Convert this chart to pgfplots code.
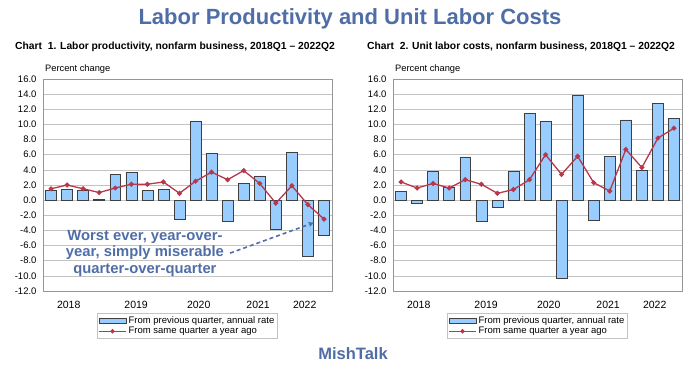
\documentclass[border=0pt]{standalone}
\usepackage{pgfplots}
\pgfplotsset{compat=1.18}
\usepackage{fontspec}
\setmainfont{Liberation Sans}
\usetikzlibrary{arrows.meta}
\definecolor{mishblue}{RGB}{79,109,166}
\definecolor{barblue}{RGB}{153,204,255}
\definecolor{linered}{RGB}{185,55,75}
\definecolor{gridgray}{RGB}{195,195,195}
\definecolor{boxgray}{RGB}{150,150,150}

\pgfplotstableread{
x bar line
0 1.3 1.5
1 1.4 2.0
2 1.3 1.5
3 0.1 1.0
4 3.4 1.6
5 3.7 2.1
6 1.3 2.1
7 1.4 2.4
8 -2.5 0.9
9 10.4 2.5
10 6.2 3.7
11 -2.8 2.7
12 2.2 3.9
13 3.2 2.2
14 -3.9 -0.4
15 6.3 1.9
16 -7.4 -0.6
17 -4.6 -2.5
}\prodtable

\pgfplotstableread{
x bar line
0 1.2 2.4
1 -0.4 1.6
2 3.8 2.2
3 1.7 1.6
4 5.7 2.7
5 -2.8 2.1
6 -0.9 0.9
7 3.8 1.4
8 11.5 2.7
9 10.4 6.0
10 -10.3 3.4
11 13.9 5.8
12 -2.7 2.3
13 5.8 1.2
14 10.6 6.7
15 3.9 4.3
16 12.8 8.2
17 10.8 9.5
}\ulctable

\pgfplotsset{
  mystyle/.style={
    scale only axis, width=289pt, height=212pt,
    xmin=-0.5, xmax=17.5, ymin=-12, ymax=16,
    ytick={-12,-10,...,16},
    /pgf/number format/assume math mode=true,
    ticklabel style={font=\fontsize{9.5}{10}\selectfont},
    yticklabel style={xshift=-3pt, /pgf/number format/.cd, fixed, fixed zerofill, precision=1},
    xticklabel style={font=\fontsize{10.5}{11}\selectfont, yshift=-7pt},
    xtick={1.1,5.3,9.2,12.9,15.8},
    xticklabels={2018,2019,2020,2021,2022},
    major tick length=0pt,
    ymajorgrids, grid style={gridgray, line width=0.6pt},
    axis line style={boxgray, line width=0.6pt},
    legend style={font=\fontsize{9.5}{10}\selectfont, draw=gridgray, line width=0.6pt,
      at={(axis description cs:0.187,-0.104)}, anchor=north west,
      inner sep=1pt, row sep=-1.5pt, cells={anchor=west}},
    legend cell align=left,
    clip=false,
  },
  barstyle/.style={ybar, bar width=0.68, fill=barblue, draw=black!75, line width=0.5pt,
    legend image code/.code={\draw[fill=barblue, draw=black!75, line width=0.5pt] (0pt,-2.5pt) rectangle (27pt,2.5pt);}},
  linestyle/.style={linered, line width=1.3pt, mark=*, mark size=1.8pt,
    mark options={fill=linered, draw=linered},
    legend image code/.code={\draw[linered, line width=1.3pt] (0pt,0pt) -- (27pt,0pt); \fill[linered] (13.5pt,0pt) circle (1.5pt);}},
}

\begin{document}
\begin{tikzpicture}[x=1pt,y=1pt]
\useasboundingbox (0,0) rectangle (700,382);

\node[font=\fontsize{22}{24}\selectfont\bfseries, text=mishblue] at (350,363) {Labor Productivity and Unit Labor Costs};
\node[font=\fontsize{10.3}{11}\selectfont\bfseries, anchor=west, inner sep=0pt] at (15,335) {Chart\ \ 1. Labor productivity, nonfarm business, 2018Q1 -- 2022Q2};
\node[font=\fontsize{10.3}{11}\selectfont\bfseries, anchor=west, inner sep=0pt] at (367,335) {Chart\ \ 2. Unit labor costs, nonfarm business, 2018Q1 -- 2022Q2};
\node[font=\fontsize{9.3}{10}\selectfont, anchor=west, inner sep=0pt] at (45,313) {Percent change};
\node[font=\fontsize{9.3}{10}\selectfont, anchor=west, inner sep=0pt] at (395,313) {Percent change};
\node[font=\fontsize{16.5}{18}\selectfont\bfseries, text=mishblue] at (353,28) {MishTalk};

\begin{axis}[mystyle, at={(43pt,91pt)}, anchor=south west]
\addplot[barstyle] table[x=x, y=bar] {\prodtable};
\addlegendentry{From previous quarter, annual rate}
\addplot[linestyle] table[x=x, y=line] {\prodtable};
\addlegendentry{From same quarter a year ago}
\node[font=\fontsize{14.8}{16.5}\selectfont\bfseries, text=mishblue, align=center] at (axis cs:5.85,-7.0) {Worst ever, year-over-\\year, simply miserable\\quarter-over-quarter};
\draw[mishblue, line width=1.6pt, dash pattern=on 4pt off 3pt, -{Stealth[length=6pt,width=5pt]}] (axis cs:11.15,-7.0) -- (axis cs:16.4,-2.95);
\end{axis}

\begin{axis}[mystyle, at={(393pt,91pt)}, anchor=south west]
\addplot[barstyle] table[x=x, y=bar] {\ulctable};
\addlegendentry{From previous quarter, annual rate}
\addplot[linestyle] table[x=x, y=line] {\ulctable};
\addlegendentry{From same quarter a year ago}
\end{axis}
\end{tikzpicture}
\end{document}
